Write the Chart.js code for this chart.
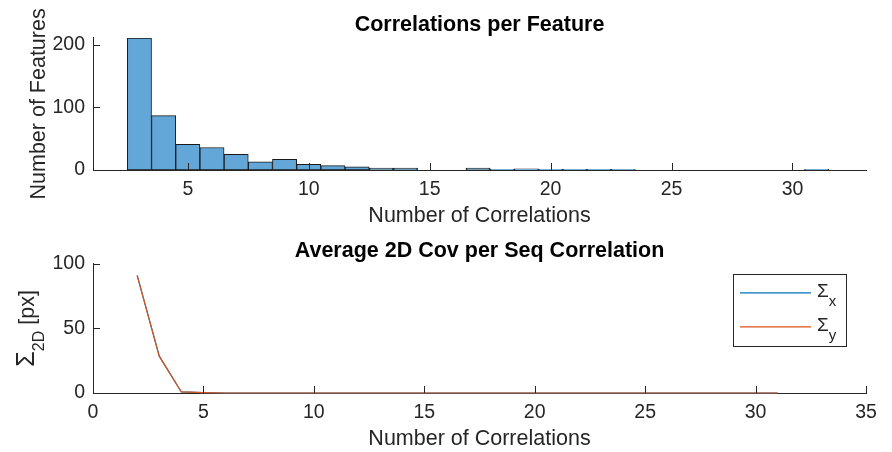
<!DOCTYPE html>
<html>
<head>
<meta charset="utf-8">
<script src="https://cdn.jsdelivr.net/npm/chart.js@4.4.0/dist/chart.umd.min.js"></script>
<style>
  html, body { margin: 0; padding: 0; background: #fff; }
  #wrap { position: relative; width: 892px; height: 452px; overflow: hidden; }
  canvas { position: absolute; left: 0; }
</style>
</head>
<body>
<div id="wrap">
  <canvas id="hist" width="892" height="235" style="top:0;width:892px;height:235px"></canvas>
  <canvas id="cov" width="892" height="217" style="top:235px;width:892px;height:217px"></canvas>
</div>
<script>
// ---- Correlations per feature (unit-wide bins, given by their centres) ----
const binCenters    = [3, 4, 5, 6, 7, 8, 9, 10, 11, 12, 13, 14, 15, 16, 17, 18, 19, 20, 21, 22, 23, 24, 25, 26, 27, 28, 29, 30, 31];
const featureCounts = [211, 87, 41, 36, 25, 13, 17, 9, 7, 5, 3, 3, 0, 0, 3, 1, 2, 1, 1, 1, 1, 0, 0, 0, 0, 0, 0, 0, 1];
const histXTicks = [5, 10, 15, 20, 25, 30];
const histYTicks = [0, 100, 200];

// ---- Average 2D covariance per sequence correlation ----
const corrCounts = [2, 3, 4, 5, 6, 7, 8, 9, 10, 11, 12, 13, 14, 15, 16, 17, 18, 19, 20, 21, 22, 23, 24, 25, 26, 27, 28, 29, 30, 31];
const sigmaX = [91, 28.5, 0.8, 0.3, 0, 0, 0, 0, 0, 0, 0, 0, 0, 0, 0, 0, 0, 0, 0, 0, 0, 0, 0, 0, 0, 0, 0, 0, 0, 0];
const sigmaY = [91, 28.5, 0.8, 0.3, 0, 0, 0, 0, 0, 0, 0, 0, 0, 0, 0, 0, 0, 0, 0, 0, 0, 0, 0, 0, 0, 0, 0, 0, 0, 0];
const covXTicks = [0, 5, 10, 15, 20, 25, 30, 35];
const covYTicks = [0, 50, 100];

const FONT = "'Liberation Sans', Arial, Helvetica, sans-serif";
const INK = '#262626';
const TICK_FONT = 19.5;
const LABEL_FONT = 21.5;
const TICK_LEN = 7;
const BLUE = '#0072BD';
const ORANGE = '#D95319';

Chart.defaults.font.family = FONT;
Chart.defaults.color = INK;

const useTicks = list => scale => { scale.ticks = list.map(v => ({ value: v })); };

// inward tick marks on the left and bottom axes
const inwardTicks = {
  id: 'inwardTicks',
  afterDatasetsDraw(chart) {
    const { ctx, chartArea: a, scales: { x, y } } = chart;
    ctx.save();
    ctx.strokeStyle = INK;
    ctx.lineWidth = 1;
    ctx.beginPath();
    x.ticks.forEach(t => {
      const px = Math.round(x.getPixelForValue(t.value)) + 0.5;
      ctx.moveTo(px, a.bottom);
      ctx.lineTo(px, a.bottom - TICK_LEN);
    });
    y.ticks.forEach(t => {
      const py = Math.round(y.getPixelForValue(t.value)) + 0.5;
      ctx.moveTo(a.left, py);
      ctx.lineTo(a.left + TICK_LEN, py);
    });
    ctx.stroke();
    ctx.restore();
  }
};

// rotated y-axis title made of runs (allows subscripts)
function drawRotatedRuns(ctx, runs, baseX, centerY) {
  ctx.save();
  ctx.translate(baseX, centerY);
  ctx.rotate(-Math.PI / 2);
  ctx.fillStyle = INK;
  ctx.textBaseline = 'alphabetic';
  ctx.textAlign = 'left';
  let total = 0;
  runs.forEach(r => { ctx.font = `${r.size}px ${FONT}`; r.w = ctx.measureText(r.text).width; total += r.w; });
  let pos = -total / 2;
  runs.forEach(r => {
    ctx.font = `${r.size}px ${FONT}`;
    ctx.fillText(r.text, pos, r.shift || 0);
    pos += r.w;
  });
  ctx.restore();
}

function yTitlePlugin(runs, baseX) {
  return {
    id: 'yTitle',
    afterDraw(chart) {
      const a = chart.chartArea;
      drawRotatedRuns(chart.ctx, runs, baseX, (a.top + a.bottom) / 2);
    }
  };
}

const commonScaleX = (min, max, ticks, height, titlePadBottom) => ({
  type: 'linear',
  min, max,
  offset: false,
  grid: { display: false, drawTicks: false },
  border: { display: true, color: INK, width: 1 },
  ticks: { font: { size: TICK_FONT }, color: INK, padding: 8, maxRotation: 0 },
  afterBuildTicks: useTicks(ticks),
  afterFit: s => { s.height = height; },
  title: {
    display: true,
    text: 'Number of Correlations',
    color: INK,
    font: { size: LABEL_FONT },
    padding: { top: 0, bottom: titlePadBottom }
  }
});

const commonScaleY = (min, max, ticks) => ({
  min, max,
  grid: { display: false, drawTicks: false },
  border: { display: true, color: INK, width: 1 },
  ticks: { font: { size: TICK_FONT }, color: INK, padding: 8 },
  afterBuildTicks: useTicks(ticks),
  afterFit: s => { s.width = 93; }
});

const titleOpts = (text, padTop, padBottom) => ({
  display: true,
  text,
  color: '#000',
  fullSize: false,
  font: { size: LABEL_FONT, weight: 'bold' },
  padding: { top: padTop, bottom: padBottom }
});

// ---- top: histogram ----
new Chart(document.getElementById('hist'), {
  type: 'bar',
  data: {
    datasets: [{
      data: binCenters.map((c, i) => ({ x: c, y: featureCounts[i] })),
      backgroundColor: '#62A7D8',
      borderColor: '#1a1a1a',
      borderWidth: 1,
      borderSkipped: false,
      barPercentage: 1,
      categoryPercentage: 1
    }]
  },
  options: {
    responsive: false,
    animation: false,
    devicePixelRatio: 1,
    layout: { padding: { left: 0, right: 26, top: 0, bottom: 0 } },
    plugins: {
      legend: { display: false },
      tooltip: { enabled: false },
      title: titleOpts('Correlations per Feature', 12, 0)
    },
    scales: {
      x: commonScaleX(1.08, 33.04, histXTicks, 65, 6),
      y: commonScaleY(0, 211.5, histYTicks)
    }
  },
  plugins: [inwardTicks, yTitlePlugin([{ text: 'Number of Features', size: LABEL_FONT }], 45)]
});

// legend with subscripted sigma labels
const sigmaLegend = {
  id: 'sigmaLegend',
  afterDraw(chart) {
    const { ctx, chartArea: a } = chart;
    const w = 113, h = 72;
    const left = a.right - 20 - w, top = a.top + 10;
    ctx.save();
    ctx.fillStyle = '#fff';
    ctx.fillRect(left, top, w, h);
    ctx.strokeStyle = INK;
    ctx.lineWidth = 1;
    ctx.strokeRect(Math.round(left) + 0.5, Math.round(top) + 0.5, w, h);
    const items = [
      { color: BLUE, sub: 'x', y: top + 19 },
      { color: ORANGE, sub: 'y', y: top + 53 }
    ];
    items.forEach(it => {
      ctx.strokeStyle = it.color;
      ctx.lineWidth = 1.2;
      ctx.beginPath();
      ctx.moveTo(left + 7, it.y);
      ctx.lineTo(left + 78, it.y);
      ctx.stroke();
      ctx.fillStyle = INK;
      ctx.textBaseline = 'alphabetic';
      ctx.textAlign = 'left';
      ctx.font = `19px ${FONT}`;
      const sw = ctx.measureText('Σ').width;
      ctx.fillText('Σ', left + 84, it.y + 4);
      ctx.font = `15px ${FONT}`;
      ctx.fillText(it.sub, left + 84 + sw, it.y + 13);
    });
    ctx.restore();
  }
};

// ---- bottom: average 2D covariance ----
new Chart(document.getElementById('cov'), {
  type: 'line',
  data: {
    datasets: [
      {
        label: 'Σx',
        data: corrCounts.map((c, i) => ({ x: c, y: sigmaX[i] })),
        borderColor: BLUE,
        borderWidth: 1.2,
        pointRadius: 0,
        fill: false,
        tension: 0,
        clip: false,
        order: 1
      },
      {
        label: 'Σy',
        data: corrCounts.map((c, i) => ({ x: c, y: sigmaY[i] })),
        borderColor: ORANGE,
        borderWidth: 1.2,
        pointRadius: 0,
        fill: false,
        tension: 0,
        clip: false,
        order: 0
      }
    ]
  },
  options: {
    responsive: false,
    animation: false,
    devicePixelRatio: 1,
    layout: { padding: { left: 0, right: 26, top: 0, bottom: 0 } },
    plugins: {
      legend: { display: false },
      tooltip: { enabled: false },
      title: titleOpts('Average 2D Cov per Seq Correlation', 3, 0)
    },
    scales: {
      x: commonScaleX(0, 35, covXTicks, 59, 0),
      y: commonScaleY(0, 100, covYTicks)
    }
  },
  plugins: [
    inwardTicks,
    sigmaLegend,
    yTitlePlugin([
      { text: 'Σ', size: 25 },
      { text: '2D', size: 16, shift: 10 },
      { text: ' [px]', size: LABEL_FONT }
    ], 34)
  ]
});
</script>
</body>
</html>
